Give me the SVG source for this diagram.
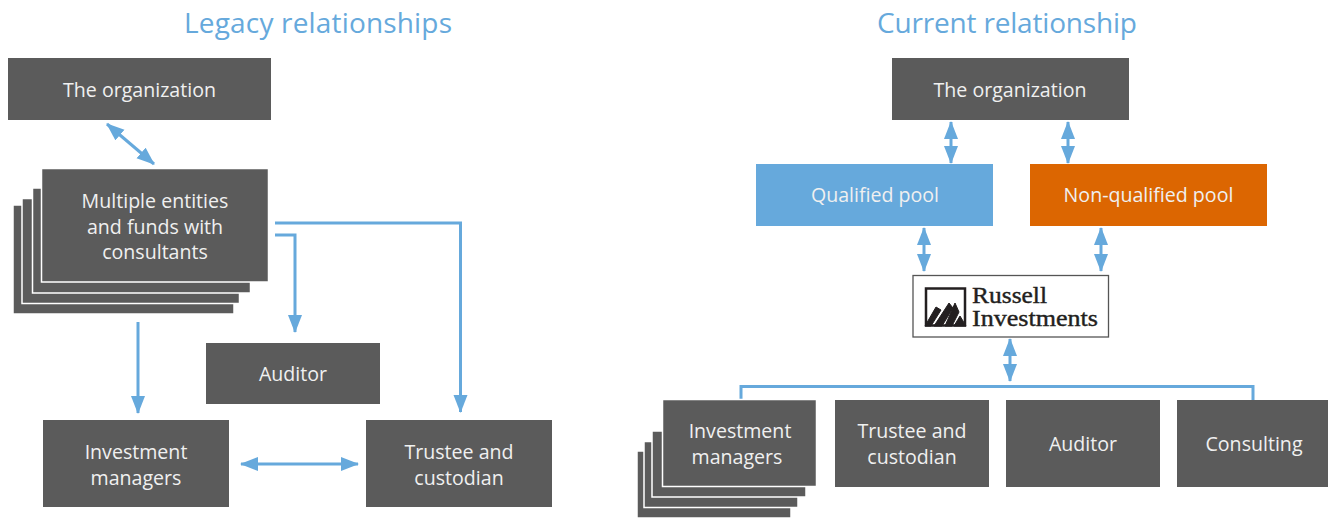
<svg xmlns="http://www.w3.org/2000/svg" width="1328" height="518" viewBox="0 0 1328 518">
<style>
.b{fill:#5b5b5b}
.s{fill:#5b5b5b;stroke:#fff;stroke-width:1.5}
.t{font-family:"Open Sans","Noto Sans",sans-serif;font-size:19.600px;fill:#f0f0f0;text-anchor:middle}
.h{font-family:"Open Sans","Noto Sans",sans-serif;font-size:28px;fill:#66a9dc;text-anchor:middle}
.c{fill:none;stroke:#66a9dc;stroke-width:3}
.a{marker-end:url(#ah)}
.d{marker-start:url(#ah);marker-end:url(#ah)}
.l{font-family:"Liberation Serif",serif;font-size:23px;fill:#231f20;stroke:#231f20;stroke-width:.4}
</style>
<defs>
<marker id="ah" markerUnits="userSpaceOnUse" markerWidth="18" markerHeight="15" refX="17" refY="7.500" orient="auto-start-reverse" viewBox="0 0 18 15"><path d="M0,0.500L18,7.500L0,14.500Z" fill="#66a9dc"/></marker>
</defs>
<text class="h" x="318" y="33" textLength="268">Legacy relationships</text>
<text class="h" x="1007" y="33" textLength="260">Current relationship</text>
<g id="connectors">
<path class="c d" d="M107,124L154,164"/>
<path class="c a" d="M275,223H460.500V412"/>
<path class="c a" d="M275,235H295V332"/>
<path class="c a" d="M138,322V413"/>
<path class="c d" d="M241,464H358"/>
<path class="c d" d="M951,122V163"/>
<path class="c d" d="M1068,122V163"/>
<path class="c d" d="M924,228V271"/>
<path class="c d" d="M1101,228V271"/>
<path class="c d" d="M1010,339V381"/>
<path class="c" d="M741,400V386.500H1253V400"/>
</g>
<g id="n-org-legacy"><rect class="b" x="8" y="58" width="263" height="62"/><text class="t" x="139.500" y="97">The organization</text></g>
<g id="n-entities">
<rect class="s" x="13" y="205" width="221" height="109"/>
<rect class="s" x="22" y="198.500" width="217.500" height="105"/>
<rect class="s" x="32.500" y="188" width="218" height="105"/>
<rect class="s" x="41.500" y="168.500" width="227" height="113.500"/>
<text class="t" x="155" y="208">Multiple entities</text><text class="t" x="155" y="234">and funds with</text><text class="t" x="155" y="259">consultants</text></g>
<g id="n-auditor-legacy"><rect class="b" x="206" y="343" width="174" height="61"/><text class="t" x="293" y="381">Auditor</text></g>
<g id="n-im-legacy"><rect class="b" x="43" y="420" width="186" height="87"/><text class="t" x="136" y="459">Investment</text><text class="t" x="136" y="485">managers</text></g>
<g id="n-trustee-legacy"><rect class="b" x="366" y="420" width="186" height="87"/><text class="t" x="459" y="459">Trustee and</text><text class="t" x="459" y="485">custodian</text></g>
<g id="n-org-current"><rect class="b" x="892" y="58" width="237" height="62"/><text class="t" x="1010" y="97">The organization</text></g>
<g id="n-qualified"><rect x="756" y="164" width="237" height="62" fill="#66a9dc"/><text class="t" x="875" y="202">Qualified pool</text></g>
<g id="n-nonqualified"><rect x="1030" y="164" width="237" height="62" fill="#dc6601"/><text class="t" x="1148.500" y="202">Non-qualified pool</text></g>
<g id="n-russell"><rect x="913" y="275.500" width="195.500" height="61.500" fill="#fff" stroke="#555" stroke-width="1.300"/>
<rect x="926" y="288.500" width="39" height="37" fill="none" stroke="#231f20" stroke-width="2.500"/>
<path d="M925,326L936,307L941,310L931,326ZM934,326L949,303L953,308L942,326ZM945,326L955,303L959,312L952,326ZM954,326L960,316L966,326Z" fill="#231f20" stroke="#231f20" stroke-width="1"/>
<text class="l" x="972" y="303" textLength="75" lengthAdjust="spacingAndGlyphs">Russell</text><text class="l" x="972" y="326" textLength="126" lengthAdjust="spacingAndGlyphs">Investments</text></g>
<g id="n-im-current">
<rect class="s" x="637" y="451" width="154" height="67"/>
<rect class="s" x="644" y="441.500" width="154" height="66"/>
<rect class="s" x="652" y="431" width="154" height="66"/>
<rect class="s" x="662.500" y="399.500" width="154" height="87"/>
<text class="t" x="740" y="438">Investment</text><text class="t" x="737" y="464">managers</text></g>
<g id="n-trustee-current"><rect class="b" x="835" y="400" width="154" height="87"/><text class="t" x="912" y="438">Trustee and</text><text class="t" x="912" y="464">custodian</text></g>
<g id="n-auditor-current"><rect class="b" x="1006" y="400" width="154" height="87"/><text class="t" x="1083" y="451">Auditor</text></g>
<g id="n-consulting"><rect class="b" x="1177" y="400" width="151" height="87"/><text class="t" x="1254" y="451">Consulting</text></g>
</svg>
